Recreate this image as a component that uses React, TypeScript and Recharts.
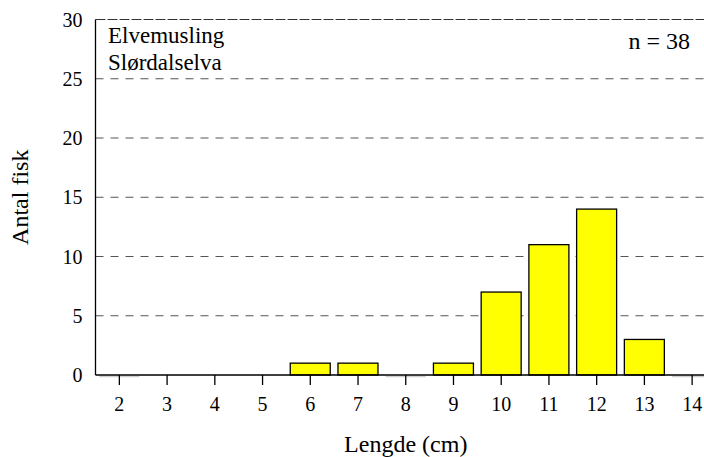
import React from 'react';
import { BarChart, Bar, XAxis, YAxis, CartesianGrid, ReferenceLine, Customized } from 'recharts';

const lengths: number[] = [2, 3, 4, 5, 6, 7, 8, 9, 10, 11, 12, 13, 14];
const counts: (number | null)[] = [0, null, null, null, 1, 1, 0, 1, 7, 11, 14, 3, 0];
const yTicks: number[] = [0, 5, 10, 15, 20, 25, 30];
const titleLines: string[] = ['Elvemusling', 'Slørdalselva'];
const nLabel = 'n = 38';

const data = lengths.map((cm, i) => ({ cm, count: counts[i] }));

const FONT = 'Liberation Serif, Tinos, Times New Roman, DejaVu Serif, serif';

const BarShape = (props: any) => {
  const { x, y, width, height, payload } = props;
  if (payload == null || payload.count == null) return null;
  if (payload.count === 0 || !height) {
    return (
      <line x1={x} x2={x + width} y1={y + 1.5} y2={y + 1.5} stroke="#cfcfcf" strokeWidth={1.5} />
    );
  }
  return (
    <rect x={x} y={y} width={width} height={height} fill="#ffff00" stroke="#000" strokeWidth={1.3} />
  );
};

const txt = { fontFamily: FONT };

const Annotations = () => (
  <g style={txt} fill="#000">
    <text x={108} y={43} fontSize={23} fill="#000" style={txt}>{titleLines[0]}</text>
    <text x={108} y={70} fontSize={23} fill="#000" style={txt}>{titleLines[1]}</text>
    <text x={690} y={49} fontSize={24} textAnchor="end" fill="#000" style={txt}>{nLabel}</text>
  </g>
);

export default function App() {
  return (
    <div style={{ position: 'absolute', left: 0, top: 0, width: 704, height: 457, overflow: 'hidden', background: '#fff', fontFamily: FONT }}>
      <BarChart
        width={716}
        height={457}
        data={data}
        margin={{ top: 19.5, right: 0, left: 0, bottom: 4 }}
        barCategoryGap="8%"
        style={{ fontFamily: FONT }}
      >
        <CartesianGrid
          horizontal
          vertical={false}
          stroke="#555"
          strokeDasharray="8 7"
          horizontalValues={[5, 10, 15, 20, 25]}
        />
        <ReferenceLine y={30} stroke="#333" strokeWidth={1.2} strokeDasharray="10 2" />
        <XAxis
          dataKey="cm"
          type="category"
          height={78}
          tickSize={10}
          tickMargin={12}
          axisLine={{ stroke: '#000', strokeWidth: 1.3 }}
          tickLine={{ stroke: '#000', strokeWidth: 1.3 }}
          tick={{ fontSize: 20, fill: '#000', fontFamily: FONT, style: txt }}
          interval={0}
          label={{ value: 'Lengde (cm)', position: 'insideBottom', offset: 1, style: { fontSize: 24, fill: '#000', fontFamily: FONT } }}
        />
        <YAxis
          type="number"
          domain={[0, 30]}
          ticks={yTicks}
          width={95.5}
          tickLine={false}
          tickSize={6}
          tickMargin={7}
          axisLine={{ stroke: '#000', strokeWidth: 1.3 }}
          tick={{ fontSize: 20, fill: '#000', fontFamily: FONT, style: txt }}
          interval={0}
          label={{ value: 'Antal fisk', angle: -90, position: 'insideLeft', offset: 19, style: { textAnchor: 'middle', fontSize: 24, fill: '#000', fontFamily: FONT } }}
        />
        <Bar dataKey="count" isAnimationActive={false} shape={BarShape} />
        <Customized component={Annotations} />
      </BarChart>
    </div>
  );
}
